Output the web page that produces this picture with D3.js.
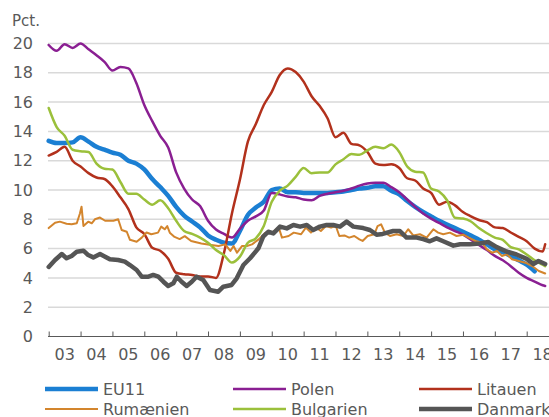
<!DOCTYPE html>
<html>
<head>
<meta charset="utf-8">
<script src="https://cdn.jsdelivr.net/npm/d3@7"></script>
<style>
body { margin: 0; background: #fff; }
text { font-family: "DejaVu Sans", sans-serif; fill: #595959; }
</style>
</head>
<body>
<div id="chart"></div>
<script>
const width = 549, height = 417;

// quarterly grid (decimal years), last point is mid 2018
const quarters = [
  2003, 2003.25, 2003.5, 2003.75, 2004, 2004.25, 2004.5, 2004.75,
  2005, 2005.25, 2005.5, 2005.75, 2006, 2006.25, 2006.5, 2006.75,
  2007, 2007.25, 2007.5, 2007.75, 2008, 2008.25, 2008.5, 2008.75,
  2009, 2009.25, 2009.5, 2009.75, 2010, 2010.25, 2010.5, 2010.75,
  2011, 2011.25, 2011.5, 2011.75, 2012, 2012.25, 2012.5, 2012.75,
  2013, 2013.25, 2013.5, 2013.75, 2014, 2014.25, 2014.5, 2014.75,
  2015, 2015.25, 2015.5, 2015.75, 2016, 2016.25, 2016.5, 2016.75,
  2017, 2017.25, 2017.5, 2017.75, 2018, 2018.25, 2018.5, 2018.58
];

const eu11 = [
  13.35, 13.2, 13.2, 13.25, 13.6, 13.3, 12.95, 12.75,
  12.55, 12.4, 12.0, 11.8, 11.4, 10.75, 10.2, 9.6,
  8.85, 8.25, 7.85, 7.45, 6.9, 6.6, 6.4, 6.35,
  7.2, 8.3, 8.8, 9.2, 10.0, 10.1, 9.85, 9.85,
  9.8, 9.8, 9.8, 9.8, 9.85, 9.9, 10.0, 10.1,
  10.15, 10.25, 10.25, 9.95, 9.7, 9.25, 8.85, 8.5,
  8.2, 7.9, 7.65, 7.4, 7.15, 6.9, 6.6, 6.3,
  5.95, 5.75, 5.5, 5.2, 4.9, 4.45
];

const polen = [
  19.9, 19.5, 19.95, 19.7, 20.0, 19.6, 19.2, 18.75,
  18.15, 18.4, 18.3, 17.3, 15.8, 14.7, 13.7, 12.9,
  11.2, 10.1, 9.35, 8.9, 7.9, 7.3, 7.0, 6.75,
  7.35, 7.9, 8.2, 8.6, 9.8, 9.7, 9.55, 9.5,
  9.35, 9.3, 9.6, 9.75, 9.85, 9.95, 10.1, 10.3,
  10.45, 10.5, 10.5, 10.2, 9.85, 9.35, 8.85, 8.4,
  8.05, 7.75, 7.45, 7.2, 6.95, 6.6, 6.25, 5.9,
  5.5, 5.2, 4.8, 4.35, 4.0, 3.75, 3.5, 3.45
];

const litauen = [
  12.35, 12.6, 12.95, 12.0, 11.6, 11.15, 10.85, 10.75,
  10.25, 9.5, 8.7, 7.45, 7.0, 6.05, 5.85, 5.3,
  4.35, 4.25, 4.2, 4.1, 4.1, 4.0, 5.7, 8.4,
  10.7, 13.3, 14.5, 15.8, 16.7, 17.85, 18.3, 18.05,
  17.4, 16.4, 15.75, 14.9, 13.6, 13.9, 13.15, 13.05,
  12.6, 11.8, 11.7, 11.75, 11.5, 10.8, 10.65, 10.1,
  9.8, 9.0, 9.2, 8.95, 8.5, 8.2, 7.95, 7.8,
  7.45, 7.4, 7.1, 6.8, 6.5, 6.0, 5.8, 6.3
];

const bulgarien = [
  15.6, 14.3, 13.7, 12.75, 12.65, 12.6, 11.8, 11.45,
  11.4, 10.55, 9.75, 9.75, 9.35, 9.0, 9.3, 8.75,
  7.9, 7.2, 7.0, 6.75, 6.4, 5.9, 5.55, 5.05,
  5.45, 6.4, 6.7, 7.55, 9.2, 9.95, 10.3, 10.9,
  11.5, 11.15, 11.2, 11.2, 11.75, 12.1, 12.45, 12.4,
  12.7, 12.95, 12.85, 13.1, 12.6, 11.6, 11.25, 11.2,
  10.1, 9.9, 9.3, 8.1, 8.05, 7.85, 7.4, 7.05,
  6.75, 6.6, 6.1, 5.95, 5.6, 5.2, 4.9, 4.8
];

// noisy series, read at irregular dates [year, value]
const rumaenien = [
  [2003.0, 7.4], [2003.2, 7.77], [2003.35, 7.84], [2003.56, 7.7], [2003.72, 7.66],
  [2003.88, 7.73], [2003.98, 8.4], [2004.03, 8.86], [2004.09, 7.55], [2004.24, 7.84],
  [2004.35, 7.73], [2004.45, 8.0], [2004.61, 8.12], [2004.77, 7.9], [2005.03, 7.9],
  [2005.18, 8.0], [2005.29, 7.27], [2005.45, 7.15], [2005.55, 6.6], [2005.76, 6.47],
  [2005.92, 6.75], [2006.07, 7.1], [2006.22, 6.98], [2006.43, 7.09], [2006.53, 7.5],
  [2006.64, 7.32], [2006.72, 7.54], [2006.8, 7.09], [2006.95, 6.8], [2007.11, 6.65],
  [2007.27, 6.85], [2007.47, 6.52], [2007.79, 6.35], [2008.1, 6.25], [2008.33, 6.18],
  [2008.54, 6.29], [2008.7, 5.84], [2008.8, 6.18], [2008.91, 5.72], [2009.07, 6.18],
  [2009.22, 6.18], [2009.38, 6.29], [2009.59, 6.63], [2009.8, 7.09], [2010.01, 7.09],
  [2010.22, 7.43], [2010.32, 6.75], [2010.53, 6.86], [2010.69, 7.09], [2010.92, 6.98],
  [2011.07, 7.43], [2011.23, 7.09], [2011.39, 7.43], [2011.54, 7.2], [2011.7, 7.54],
  [2011.86, 7.43], [2012.01, 7.54], [2012.12, 6.86], [2012.28, 6.9], [2012.43, 6.75],
  [2012.59, 6.86], [2012.75, 6.63], [2012.85, 6.52], [2013.01, 6.86], [2013.22, 6.98],
  [2013.32, 7.54], [2013.43, 7.66], [2013.55, 7.09], [2013.71, 6.86], [2013.92, 6.98],
  [2014.13, 6.86], [2014.28, 7.32], [2014.44, 6.9], [2014.65, 6.98], [2014.86, 6.75],
  [2015.07, 7.32], [2015.22, 7.09], [2015.38, 6.98], [2015.59, 7.09], [2015.8, 6.86],
  [2016.01, 6.95], [2016.18, 6.75], [2016.39, 6.52], [2016.6, 6.4], [2016.75, 5.95],
  [2016.91, 5.72], [2017.07, 5.84], [2017.22, 5.5], [2017.38, 5.61], [2017.54, 5.27],
  [2017.75, 5.15], [2017.96, 5.04], [2018.17, 4.81], [2018.38, 4.47], [2018.58, 4.3]
];

const danmark = [
  [2003.0, 4.75], [2003.2, 5.22], [2003.41, 5.63], [2003.56, 5.34], [2003.72, 5.5],
  [2003.88, 5.79], [2004.09, 5.86], [2004.24, 5.56], [2004.4, 5.4], [2004.61, 5.63],
  [2004.77, 5.45], [2004.92, 5.27], [2005.18, 5.22], [2005.39, 5.11], [2005.55, 4.88],
  [2005.76, 4.54], [2005.92, 4.08], [2006.13, 4.08], [2006.28, 4.2], [2006.44, 4.08],
  [2006.6, 3.74], [2006.75, 3.45], [2006.91, 3.63], [2007.02, 4.08], [2007.17, 3.74],
  [2007.33, 3.45], [2007.49, 3.74], [2007.64, 4.08], [2007.85, 3.86], [2008.06, 3.17],
  [2008.32, 3.06], [2008.48, 3.4], [2008.74, 3.52], [2008.9, 3.97], [2009.11, 4.88],
  [2009.32, 5.34], [2009.58, 6.02], [2009.73, 6.81], [2009.89, 7.15], [2010.05, 7.04],
  [2010.26, 7.5], [2010.47, 7.38], [2010.68, 7.61], [2010.89, 7.5], [2011.1, 7.61],
  [2011.3, 7.27], [2011.51, 7.5], [2011.72, 7.61], [2011.93, 7.61], [2012.14, 7.5],
  [2012.35, 7.84], [2012.56, 7.5], [2012.87, 7.4], [2013.08, 7.27], [2013.29, 6.95],
  [2013.48, 7.0], [2013.81, 7.2], [2014.02, 7.2], [2014.23, 6.75], [2014.55, 6.75],
  [2014.75, 6.65], [2014.96, 6.5], [2015.17, 6.7], [2015.38, 6.5], [2015.7, 6.2],
  [2015.91, 6.3], [2016.22, 6.3], [2016.53, 6.35], [2016.79, 6.45], [2017.06, 6.1],
  [2017.37, 5.8], [2017.68, 5.6], [2018.0, 5.3], [2018.21, 4.95], [2018.37, 5.15],
  [2018.58, 4.95]
];

const yTicks = [0, 2, 4, 6, 8, 10, 12, 14, 16, 18, 20];
const yearTicks = [2003, 2004, 2005, 2006, 2007, 2008, 2009, 2010, 2011, 2012, 2013, 2014, 2015, 2016, 2017, 2018];
const yearLabels = ["03", "04", "05", "06", "07", "08", "09", "10", "11", "12", "13", "14", "15", "16", "17", "18"];

function onQuarters(vals) { return vals.map((v, i) => [quarters[i], v]); }

// drawn in this order, last on top
const series = [
  {name: "EU11", data: onQuarters(eu11), color: "#1b7fd3", w: 4.5, smooth: true},
  {name: "Polen", data: onQuarters(polen), color: "#8a1f92", w: 2.5, smooth: true},
  {name: "Litauen", data: onQuarters(litauen), color: "#b2311c", w: 2.5, smooth: true},
  {name: "Rumænien", data: rumaenien, color: "#d3852d", w: 2, smooth: false},
  {name: "Bulgarien", data: onQuarters(bulgarien), color: "#9bc03b", w: 2.5, smooth: true},
  {name: "Danmark", data: danmark, color: "#555555", w: 4.5, smooth: false}
];

const svg = d3.select("#chart").append("svg")
    .attr("width", width)
    .attr("height", height);

const x = d3.scaleLinear().domain([2003, 2018.7]).range([48.7, 549]);
const y = d3.scaleLinear().domain([0, 20]).range([336.5, 43.5]);

// gridlines
svg.append("g")
  .selectAll("line")
  .data(yTicks.filter(d => d > 0))
  .enter().append("line")
    .attr("x1", 48).attr("x2", width)
    .attr("y1", d => y(d)).attr("y2", d => y(d))
    .attr("stroke", "#d9d9d9")
    .attr("stroke-width", 1.5);

// y labels
let yAxis = svg.append("g")
    .attr("transform", "translate(48,0)")
    .call(d3.axisLeft(y).tickValues(yTicks).tickSize(0).tickPadding(15));
yAxis.select(".domain").remove();
yAxis.selectAll("text").style("font-size", "16px").attr("fill", "#595959");

svg.append("text")
    .text("Pct.")
    .attr("x", 12).attr("y", 26)
    .style("font-size", "15px");

// x axis with inward ticks at year starts
let xAxis = svg.append("g")
    .attr("transform", "translate(0," + y(0) + ")")
    .call(d3.axisBottom(x).tickValues(yearTicks).tickSizeInner(-5).tickSizeOuter(0).tickFormat(""));
xAxis.select(".domain").attr("stroke", "#595959").attr("d", "M48,0H" + width);
xAxis.selectAll(".tick line").attr("stroke", "#595959");

// year labels centred in each year
svg.append("g")
  .selectAll("text")
  .data(yearTicks)
  .enter().append("text")
    .attr("x", d => x(d + 0.5))
    .attr("y", 360)
    .style("text-anchor", "middle")
    .style("font-size", "16px")
    .text((d, i) => yearLabels[i]);

// lines
let lineSmooth = d3.line()
    .x(d => x(d[0]))
    .y(d => y(d[1]))
    .curve(d3.curveMonotoneX);
let lineRaw = d3.line()
    .x(d => x(d[0]))
    .y(d => y(d[1]));

svg.append("g")
  .selectAll("path")
  .data(series)
  .enter().append("path")
    .attr("d", d => d.smooth ? lineSmooth(d.data) : lineRaw(d.data))
    .attr("fill", "none")
    .attr("stroke", d => d.color)
    .attr("stroke-width", d => d.w)
    .attr("stroke-linejoin", "round")
    .attr("stroke-linecap", "round");

// legend, 3 columns x 2 rows
const legX = [45, 233, 419];
const legY = [389, 409];
let leg = svg.append("g")
  .selectAll("g")
  .data(series)
  .enter().append("g")
    .attr("transform", (d, i) => "translate(" + legX[i % 3] + "," + legY[Math.floor(i / 3)] + ")");

leg.append("line")
    .attr("x1", 0).attr("x2", 53)
    .attr("stroke", d => d.color)
    .attr("stroke-width", d => d.w);

leg.append("text")
    .attr("x", 58).attr("y", 5.5)
    .style("font-size", "16px")
    .text(d => d.name);
</script>
</body>
</html>
